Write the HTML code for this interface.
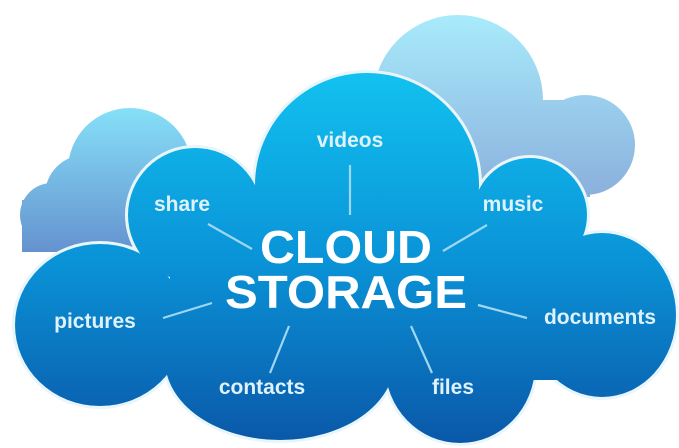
<!DOCTYPE html>
<html><head><style>
html,body{margin:0;padding:0;background:#fff;}
svg{display:block;}
text{font-family:"Liberation Sans",sans-serif;font-weight:bold;fill:#fff;text-anchor:middle;}
</style></head><body>
<svg width="679" height="448" viewBox="0 0 679 448">
<defs>
<linearGradient id="gm" x1="0" x2="0" y1="70" y2="445" gradientUnits="userSpaceOnUse">
<stop offset="0" stop-color="#12c2f0"/><stop offset="0.5" stop-color="#0a94d8"/><stop offset="1" stop-color="#0a57a8"/></linearGradient>
<linearGradient id="gr" x1="0" x2="0" y1="15" y2="200" gradientUnits="userSpaceOnUse">
<stop offset="0" stop-color="#a8ebfb"/><stop offset="1" stop-color="#8aaedc"/></linearGradient>
<linearGradient id="gl" x1="0" x2="0" y1="108" y2="252" gradientUnits="userSpaceOnUse">
<stop offset="0" stop-color="#86e0f8"/><stop offset="1" stop-color="#6592cf"/></linearGradient>
</defs>
<g fill="url(#gr)">
<circle cx="458" cy="100" r="85"/><circle cx="585" cy="145" r="50"/><rect x="440" y="100" width="150" height="97"/>
</g>
<g fill="url(#gl)">
<circle cx="130" cy="170" r="62"/><circle cx="85" cy="195" r="40"/><circle cx="52" cy="215" r="32"/><rect x="22" y="200" width="210" height="52"/>
</g>
<g fill="#e8f6fc" stroke="#e8f6fc" stroke-width="6">
<circle cx="367" cy="185" r="112"/><circle cx="195" cy="215" r="67"/><circle cx="530" cy="215" r="57"/>
<ellipse cx="100" cy="325" rx="85" ry="81"/><ellipse cx="602" cy="315" rx="74" ry="82"/>
<ellipse cx="280" cy="360" rx="115" ry="80"/><ellipse cx="460" cy="365" rx="75" ry="78"/>
</g>
<g fill="url(#gm)">
<circle cx="367" cy="185" r="112"/><circle cx="195" cy="215" r="67"/><circle cx="530" cy="215" r="57"/>
<ellipse cx="100" cy="325" rx="85" ry="81"/><ellipse cx="602" cy="315" rx="74" ry="82"/>
<ellipse cx="280" cy="360" rx="115" ry="80"/><ellipse cx="460" cy="365" rx="75" ry="78"/>
<rect x="170" y="200" width="390" height="180"/>
</g>
<g stroke="#9fd6f2" stroke-width="2.2">
<line x1="350" y1="165" x2="350" y2="215"/>
<line x1="208" y1="224" x2="252" y2="249"/>
<line x1="487" y1="225" x2="443" y2="251"/>
<line x1="163" y1="318" x2="212" y2="303"/>
<line x1="478" y1="305" x2="527" y2="318"/>
<line x1="289" y1="326" x2="270" y2="373"/>
<line x1="411" y1="326" x2="432" y2="373"/>
</g>
<g>
<text x="350" y="147" font-size="21" style="fill:#dff2fb">videos</text>
<text x="182" y="211" font-size="21" style="fill:#dff2fb">share</text>
<text x="513" y="211" font-size="21" style="fill:#dff2fb">music</text>
<text x="95" y="328" font-size="21" style="fill:#dff2fb">pictures</text>
<text x="600" y="324" font-size="21" style="fill:#dff2fb">documents</text>
<text x="262" y="394" font-size="21" style="fill:#dff2fb">contacts</text>
<text x="453" y="394" font-size="21" style="fill:#dff2fb">files</text>
</g>
<text x="346" y="263" font-size="46" textLength="172" lengthAdjust="spacingAndGlyphs">CLOUD</text>
<text x="346" y="308" font-size="46" textLength="242" lengthAdjust="spacingAndGlyphs">STORAGE</text>
</svg>
</body></html>
